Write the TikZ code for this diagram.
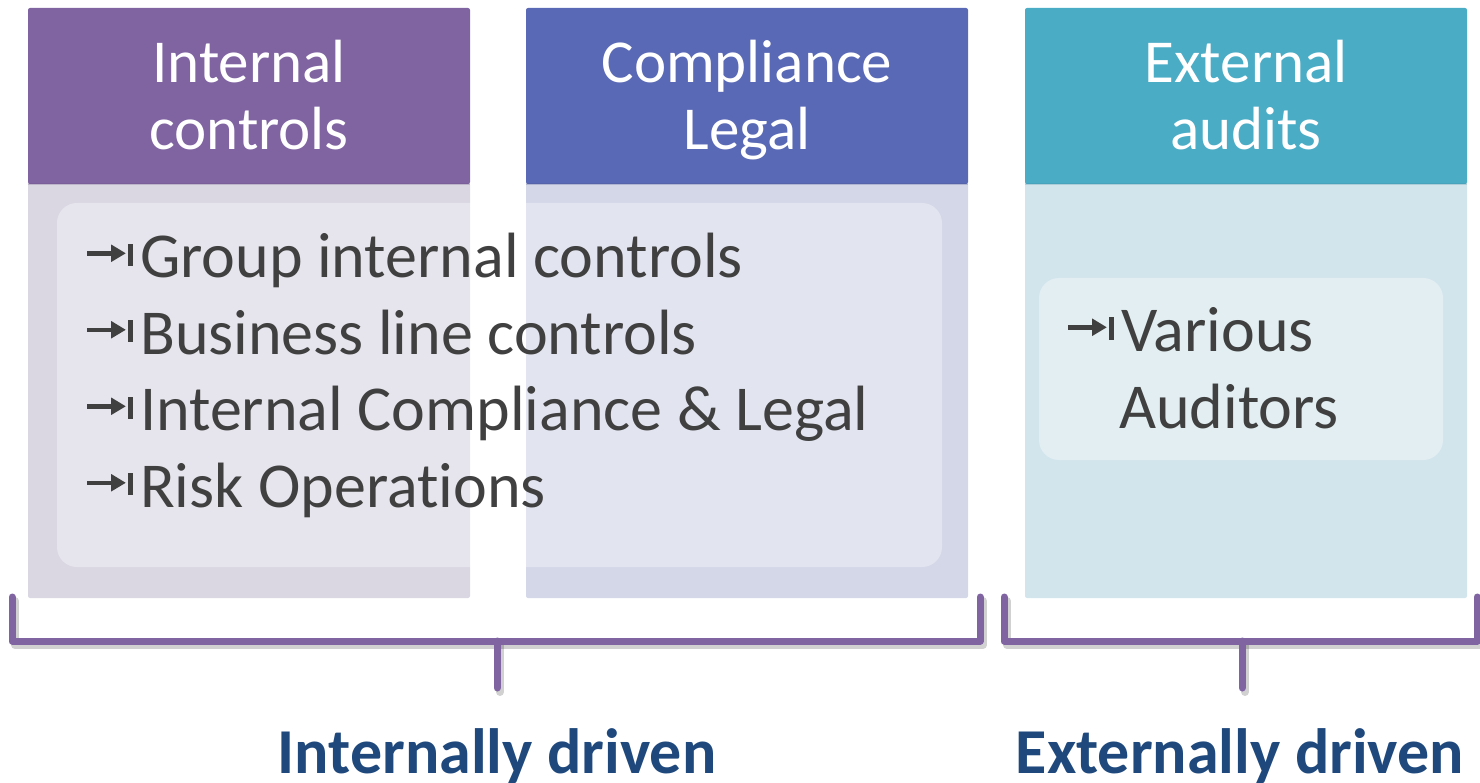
\documentclass[tikz,border=0pt]{standalone}
\usepackage{fontspec}
\setmainfont{Carlito}[Ligatures={NoCommon}]
\definecolor{purp}{HTML}{8064A2}
\definecolor{blueh}{HTML}{5A69B5}
\definecolor{tealh}{HTML}{4BACC6}
\definecolor{bodyA}{HTML}{DAD7E3}
\definecolor{bodyB}{HTML}{D3D7E7}
\definecolor{bodyC}{HTML}{D3E5EC}
\definecolor{txtgray}{HTML}{404040}
\definecolor{lblblue}{HTML}{1F497D}
\newcommand\tabmk{\makebox[53pt][l]{\tikz[baseline=0pt,x=1pt,y=1pt]{%
  \fill[txtgray] (0,22) rectangle (26,26.5);
  \fill[txtgray] (24,15.5)--(38.5,24.2)--(24,33)--cycle;
  \fill[txtgray] (41,12) rectangle (45.5,34);}}}
\tikzset{
  hdrtext/.style={text=white, font=\fontsize{61}{67}\selectfont, align=center, anchor=base, inner sep=0pt},
  bodytext/.style={text=txtgray, font=\fontsize{64}{76.5}\selectfont, align=left, anchor=base west, inner sep=0pt},
  lbltext/.style={text=lblblue, font=\bfseries\fontsize{64}{68}\selectfont, anchor=base, inner sep=0pt},
  inbox/.style={fill=white, fill opacity=0.35, rounded corners=20pt},
  brk/.style={draw=purp, line width=7pt, line cap=round, line join=round},
  brkshadow/.style={draw=black, opacity=0.18, line width=8pt, line cap=round, line join=round},
}
\begin{document}
\begin{tikzpicture}[x=1pt,y=-1pt]
\useasboundingbox (0,0) rectangle (1480,783);
\clip (0,0) rectangle (1480,783);
% column bodies
\fill[bodyA, rounded corners=2pt] (28,183) rectangle (470,598);
\fill[bodyB, rounded corners=2pt] (526,183) rectangle (968,598);
\fill[bodyC, rounded corners=2pt] (1025,183) rectangle (1467,598);
% headers
\fill[purp, rounded corners=2pt] (28,8) rectangle (470,184);
\fill[blueh, rounded corners=2pt] (526,8) rectangle (968,184);
\fill[tealh, rounded corners=2pt] (1025,8) rectangle (1467,184);
\draw[purp!80!black, opacity=0.25, line width=1.5pt] (28,184) -- (470,184);
\draw[blueh!80!black, opacity=0.25, line width=1.5pt] (526,184) -- (968,184);
\draw[tealh!80!black, opacity=0.25, line width=1.5pt] (1025,184) -- (1467,184);
% inner boxes
\fill[inbox] (57,203) rectangle (942,567);
\fill[inbox] (1039,278) rectangle (1443,460);
% header texts (base anchor = last line)
\node[hdrtext] (h1) at (249,150) {Internal\\controls};
\node[hdrtext] (h2) at (747,150) {Compliance\\Legal};
\node[hdrtext] (h3) at (1246,150) {External\\audits};
% body texts
\node[bodytext] (t1) at (87,507) {\tabmk Group internal controls\\\tabmk Business line controls\\\tabmk Internal Compliance \& Legal\\\tabmk Risk Operations};
\node[bodytext] (t2) at (1068,428) {\tabmk Various\\\hspace*{51pt}Auditors};
% brackets
\draw[brkshadow] (15,601) -- (15,645) -- (983,645) -- (983,601);
\draw[brkshadow] (500,645) -- (500,692);
\draw[brkshadow] (1007,601) -- (1007,645) -- (1481,645);
\draw[brkshadow] (1245,645) -- (1245,692);
\draw[brk] (12,597) -- (12,641) -- (980,641) -- (980,597);
\draw[brk] (497,641) -- (497,688);
\draw[brk] (1004,597) -- (1004,641) -- (1477,641) -- (1477,597);
\draw[brk] (1242,641) -- (1242,688);
% labels
\node[lbltext] (l1) at (497,773) {Internally driven};
\node[lbltext] (l2) at (1240,773) {Externally driven};
\end{tikzpicture}
\end{document}
